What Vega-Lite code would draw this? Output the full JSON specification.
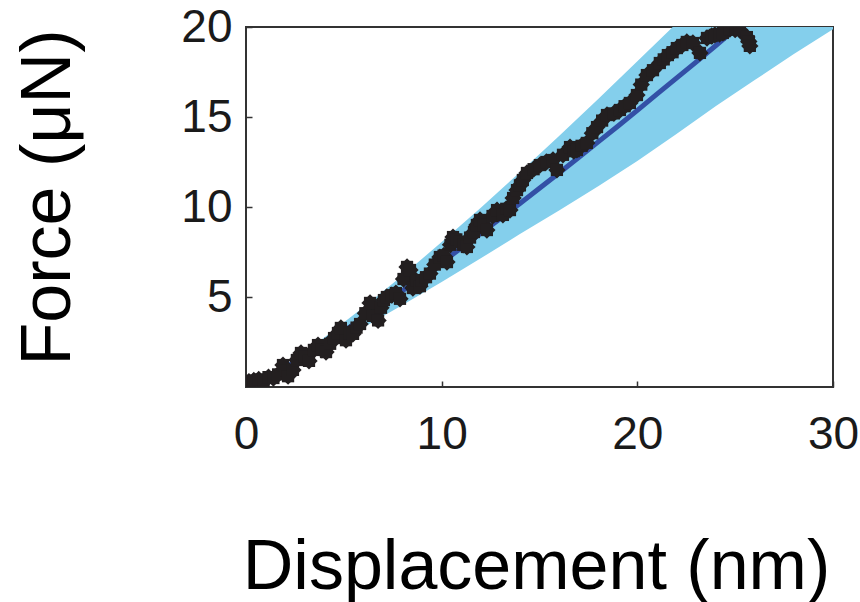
{
  "$schema": "https://vega.github.io/schema/vega-lite/v6.json",
  "width": 587,
  "height": 360,
  "autosize": "none",
  "padding": {"left": 246, "top": 27, "right": 27, "bottom": 215},
  "background": "white",
  "config": {
    "view": {"stroke": "#333333", "strokeWidth": 2},
    "axis": {"grid": false, "domain": false, "labelFont": "Liberation Sans", "labelColor": "#1a1a1a", "titleFont": "Liberation Sans", "titleFontWeight": "normal", "titleColor": "#000000", "tickColor": "#333333", "tickWidth": 1.5}
  },
  "datasets": {
    "band": [
      {"x": 0, "lo": 0, "hi": 0},
      {"x": 2, "lo": 0.97, "hi": 1.22},
      {"x": 4, "lo": 2.1, "hi": 2.75},
      {"x": 6, "lo": 3.3, "hi": 4.43},
      {"x": 8, "lo": 4.55, "hi": 6.2},
      {"x": 10, "lo": 5.84, "hi": 8.05},
      {"x": 12, "lo": 7.15, "hi": 9.96},
      {"x": 14, "lo": 8.5, "hi": 11.93},
      {"x": 16, "lo": 9.8, "hi": 13.94},
      {"x": 18, "lo": 11.15, "hi": 16.0},
      {"x": 20, "lo": 12.55, "hi": 18.1},
      {"x": 22, "lo": 14.05, "hi": 20.2},
      {"x": 24, "lo": 15.6, "hi": 22.4},
      {"x": 26, "lo": 17.05, "hi": 24.6},
      {"x": 28, "lo": 18.5, "hi": 26.8},
      {"x": 30, "lo": 19.87, "hi": 29.1}
    ],
    "fit": [
      {"x": 0, "y": 0}, {"x": 1, "y": 0.49}, {"x": 2, "y": 1.08}, {"x": 3, "y": 1.73},
      {"x": 4, "y": 2.41}, {"x": 5, "y": 3.11}, {"x": 6, "y": 3.84}, {"x": 7, "y": 4.59},
      {"x": 8, "y": 5.35}, {"x": 9, "y": 6.13}, {"x": 10, "y": 6.92}, {"x": 11, "y": 7.72},
      {"x": 12, "y": 8.54}, {"x": 13, "y": 9.36}, {"x": 14, "y": 10.19}, {"x": 15, "y": 11.04},
      {"x": 16, "y": 11.89}, {"x": 17, "y": 12.75}, {"x": 18, "y": 13.62}, {"x": 19, "y": 14.49},
      {"x": 20, "y": 15.37}, {"x": 21, "y": 16.27}, {"x": 22, "y": 17.16}, {"x": 23, "y": 18.05},
      {"x": 24, "y": 18.96}, {"x": 25, "y": 19.88}, {"x": 26, "y": 20.8}
    ],
    "pts": [
      {"x": 0.15, "y": 0.3}, {"x": 0.4, "y": 0.36}, {"x": 0.65, "y": 0.42}, {"x": 0.9, "y": 0.33},
      {"x": 1.15, "y": 0.55}, {"x": 1.4, "y": 0.5}, {"x": 1.64, "y": 0.7}, {"x": 1.89, "y": 1.22},
      {"x": 2.05, "y": 0.9}, {"x": 2.15, "y": 0.6}, {"x": 2.4, "y": 0.95}, {"x": 2.6, "y": 1.5},
      {"x": 2.81, "y": 1.89}, {"x": 3.0, "y": 1.7}, {"x": 3.22, "y": 1.45}, {"x": 3.47, "y": 2.06},
      {"x": 3.68, "y": 2.33}, {"x": 3.88, "y": 2.06}, {"x": 4.09, "y": 1.94}, {"x": 4.3, "y": 2.4},
      {"x": 4.5, "y": 2.72}, {"x": 4.7, "y": 3.0}, {"x": 4.85, "y": 3.28}, {"x": 5.11, "y": 2.6},
      {"x": 5.3, "y": 3.0}, {"x": 5.47, "y": 2.95}, {"x": 5.65, "y": 3.3}, {"x": 5.83, "y": 3.5},
      {"x": 6.1, "y": 4.1}, {"x": 6.34, "y": 4.67}, {"x": 6.49, "y": 3.95}, {"x": 6.75, "y": 3.7},
      {"x": 6.9, "y": 4.4}, {"x": 7.05, "y": 4.83}, {"x": 7.2, "y": 5.0}, {"x": 7.45, "y": 5.1},
      {"x": 7.66, "y": 5.22}, {"x": 7.87, "y": 4.9}, {"x": 8.05, "y": 6.0}, {"x": 8.23, "y": 6.67},
      {"x": 8.38, "y": 6.5}, {"x": 8.53, "y": 5.5}, {"x": 8.7, "y": 5.9}, {"x": 8.89, "y": 5.6},
      {"x": 8.99, "y": 5.94}, {"x": 9.2, "y": 6.1}, {"x": 9.4, "y": 6.3}, {"x": 9.65, "y": 6.8},
      {"x": 9.91, "y": 7.22}, {"x": 10.1, "y": 7.3}, {"x": 10.27, "y": 6.94}, {"x": 10.45, "y": 7.9},
      {"x": 10.58, "y": 8.33}, {"x": 10.75, "y": 8.2}, {"x": 10.94, "y": 8.06}, {"x": 11.1, "y": 7.9},
      {"x": 11.29, "y": 7.78}, {"x": 11.45, "y": 8.3}, {"x": 11.65, "y": 8.61}, {"x": 11.8, "y": 9.0},
      {"x": 11.96, "y": 9.28}, {"x": 12.15, "y": 9.0}, {"x": 12.31, "y": 8.72}, {"x": 12.6, "y": 9.5},
      {"x": 12.83, "y": 9.83}, {"x": 13.13, "y": 9.56}, {"x": 13.3, "y": 9.9}, {"x": 13.49, "y": 9.83},
      {"x": 13.65, "y": 10.5}, {"x": 13.85, "y": 10.94}, {"x": 14.0, "y": 11.2}, {"x": 14.15, "y": 11.5},
      {"x": 14.36, "y": 11.89}, {"x": 14.7, "y": 12.1}, {"x": 15.02, "y": 12.33}, {"x": 15.35, "y": 12.5},
      {"x": 15.69, "y": 12.61}, {"x": 15.89, "y": 12.06}, {"x": 16.2, "y": 12.9}, {"x": 16.56, "y": 13.33},
      {"x": 16.75, "y": 13.1}, {"x": 16.91, "y": 13.17}, {"x": 17.15, "y": 13.4}, {"x": 17.42, "y": 13.56},
      {"x": 17.7, "y": 14.1}, {"x": 17.94, "y": 14.44}, {"x": 18.2, "y": 14.8}, {"x": 18.45, "y": 15.11},
      {"x": 18.8, "y": 15.2}, {"x": 19.11, "y": 15.39}, {"x": 19.35, "y": 15.6}, {"x": 19.62, "y": 15.78},
      {"x": 19.98, "y": 16.22}, {"x": 20.2, "y": 16.8}, {"x": 20.49, "y": 17.33}, {"x": 20.8, "y": 17.6},
      {"x": 21.15, "y": 18.0}, {"x": 21.35, "y": 18.2}, {"x": 21.56, "y": 18.44}, {"x": 21.8, "y": 18.6},
      {"x": 22.02, "y": 18.83}, {"x": 22.3, "y": 19.0}, {"x": 22.53, "y": 19.17}, {"x": 22.84, "y": 19.11},
      {"x": 23.2, "y": 18.56}, {"x": 23.56, "y": 19.39}, {"x": 23.8, "y": 19.5}, {"x": 23.96, "y": 19.56},
      {"x": 24.2, "y": 19.6}, {"x": 24.37, "y": 19.67}, {"x": 24.73, "y": 19.89}, {"x": 25.0, "y": 19.85},
      {"x": 25.24, "y": 19.83}, {"x": 25.6, "y": 19.44}, {"x": 25.7, "y": 19.2}, {"x": 25.75, "y": 18.95}
    ]
  },
  "encoding": {
    "x": {"type": "quantitative", "scale": {"domain": [0, 30], "nice": false, "zero": false},
      "axis": {"title": "Displacement (nm)", "values": [0, 10, 20, 30], "labelFontSize": 46, "labelFlush": false, "labelPadding": 31, "tickSize": -6, "titleFontSize": 70, "titleX": 290, "titleY": 201, "titleAlign": "center", "titleBaseline": "alphabetic"}},
    "y": {"type": "quantitative", "scale": {"domain": [0, 20], "nice": false, "zero": false},
      "axis": {"title": "Force (μN)", "values": [5, 10, 15, 20], "labelFontSize": 46, "labelPadding": 20, "tickSize": -6, "labelBaseline": "middle", "titleFontSize": 70, "titleAngle": -90, "titleX": -177, "titleY": 170, "titleAlign": "center", "titleBaseline": "alphabetic"}}
  },
  "layer": [
    {
      "data": {"name": "band"},
      "mark": {"type": "area", "color": "#84cfec", "clip": true},
      "encoding": {"x": {"field": "x"}, "y": {"field": "lo"}, "y2": {"field": "hi"}}
    },
    {
      "data": {"name": "fit"},
      "mark": {"type": "line", "color": "#3350a6", "strokeWidth": 5, "clip": true},
      "encoding": {"x": {"field": "x"}, "y": {"field": "y"}}
    },
    {
      "data": {"name": "pts"},
      "mark": {"type": "square", "color": "#231f20", "opacity": 1, "size": 150, "angle": 45, "clip": true},
      "encoding": {"x": {"field": "x"}, "y": {"field": "y"}}
    },
    {
      "data": {"name": "pts"},
      "mark": {"type": "square", "color": "#231f20", "opacity": 1, "size": 150, "clip": true},
      "encoding": {"x": {"field": "x"}, "y": {"field": "y"}}
    }
  ]
}
